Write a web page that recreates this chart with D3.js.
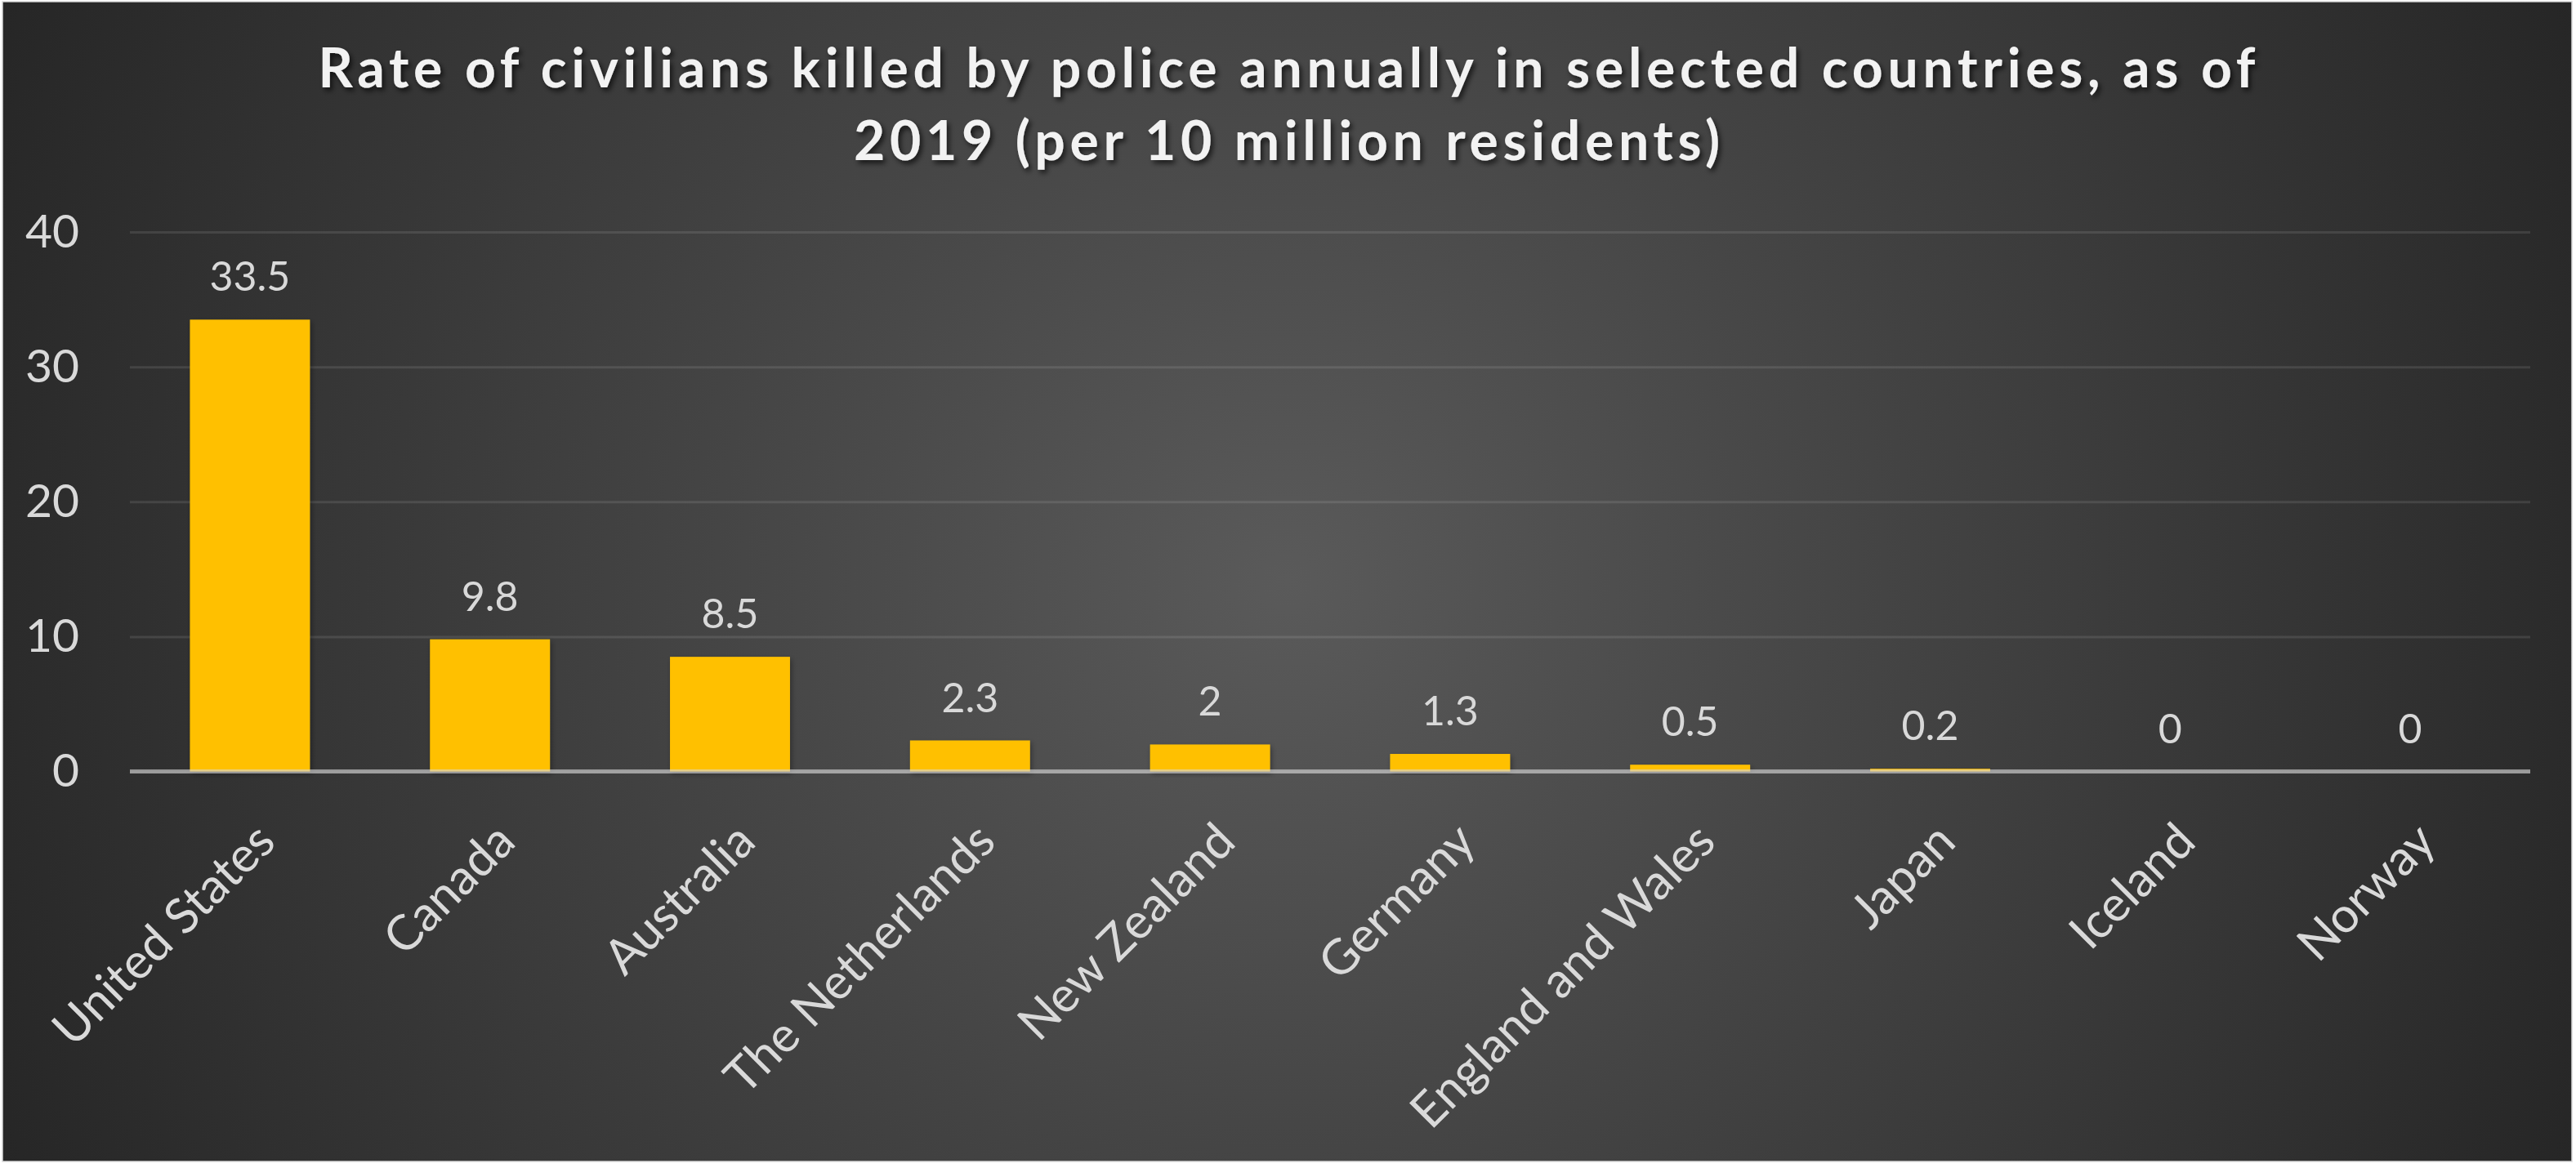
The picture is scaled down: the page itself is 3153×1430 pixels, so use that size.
<!DOCTYPE html>
<html>
<head>
<meta charset="utf-8">
<script src="https://cdn.jsdelivr.net/npm/d3@7"></script>
<style>
  html, body { margin: 0; padding: 0; background: #ffffff; }
  svg { display: block; }
</style>
</head>
<body>
<svg id="chart" width="3153" height="1430"></svg>
<script>
const categories = ["United States", "Canada", "Australia", "The Netherlands", "New Zealand",
  "Germany", "England and Wales", "Japan", "Iceland", "Norway"];
const values = [33.5, 9.8, 8.5, 2.3, 2, 1.3, 0.5, 0.2, 0, 0];
const yTicks = [0, 10, 20, 30, 40];
const titleLines = ["Rate of civilians killed by police annually in selected countries, as of",
  "2019 (per 10 million residents)"];

const W = 3153, H = 1430;
const svg = d3.select("#chart");
const defs = svg.append("defs");

const grad = defs.append("radialGradient")
  .attr("id", "bg").attr("gradientUnits", "userSpaceOnUse")
  .attr("cx", 1575).attr("cy", 712).attr("r", 1730);
grad.append("stop").attr("offset", "0%").attr("stop-color", "#5a5a5a");
grad.append("stop").attr("offset", "100%").attr("stop-color", "#262626");

const tshadow = defs.append("filter").attr("id", "tshadow")
  .attr("x", "-5%").attr("y", "-30%").attr("width", "110%").attr("height", "160%");
tshadow.append("feDropShadow").attr("dx", 3).attr("dy", 4).attr("stdDeviation", 3)
  .attr("flood-color", "#000").attr("flood-opacity", 0.65);

const bshadow = defs.append("filter").attr("id", "bshadow")
  .attr("x", "-20%").attr("y", "-20%").attr("width", "140%").attr("height", "140%");
bshadow.append("feDropShadow").attr("dx", 2).attr("dy", 3).attr("stdDeviation", 3)
  .attr("flood-color", "#000").attr("flood-opacity", 0.35);

// chart area
svg.append("rect").attr("x", 3).attr("y", 2).attr("width", 3145).attr("height", 1420)
  .attr("fill", "url(#bg)").attr("stroke", "#d9d9d9").attr("stroke-width", 1.5);

const x = d3.scaleBand().domain(categories).range([159, 3097])
  .paddingInner(0.5).paddingOuter(0.25);
const y = d3.scaleLinear().domain([0, 40]).range([944.5, 284]);

// gridlines
const grid = svg.append("g").attr("transform", "translate(159,0)")
  .call(d3.axisLeft(y).tickValues(yTicks).tickSize(-(3097 - 159)).tickFormat(""));
grid.select(".domain").remove();
grid.selectAll(".tick line").attr("stroke", "#ffffff").attr("stroke-opacity", 0.1)
  .attr("stroke-width", 3);

// y tick labels
const yAxis = svg.append("g").attr("transform", "translate(159,0)")
  .call(d3.axisLeft(y).tickValues(yTicks).tickSize(0).tickPadding(62));
yAxis.select(".domain").remove();
yAxis.selectAll("text").attr("fill", "#d9d9d9")
  .style("font-family", "Lato, 'Open Sans', sans-serif").style("font-size", "57px");

// bars
svg.append("g").selectAll("rect").data(values).join("rect")
  .attr("x", (d, i) => x(categories[i]))
  .attr("y", d => y(d))
  .attr("width", x.bandwidth())
  .attr("height", d => y(0) - y(d))
  .attr("fill", "#ffc000")
  .attr("filter", "url(#bshadow)");

// axis line
svg.append("line").attr("x1", 159).attr("x2", 3097).attr("y1", y(0)).attr("y2", y(0))
  .attr("stroke", "#d9d9d9").attr("stroke-opacity", 0.6).attr("stroke-width", 5);

// value labels
svg.append("g").selectAll("text").data(values).join("text")
  .attr("x", (d, i) => x(categories[i]) + x.bandwidth() / 2)
  .attr("y", d => y(d) - 35)
  .attr("text-anchor", "middle")
  .attr("fill", "#d9d9d9")
  .style("font-family", "Lato, 'Open Sans', sans-serif").style("font-size", "50px")
  .text(d => String(d));

// x labels
const xAxis = svg.append("g").attr("transform", `translate(0,${y(0)})`)
  .call(d3.axisBottom(x).tickSize(0));
xAxis.select(".domain").remove();
xAxis.selectAll("text")
  .attr("x", 34).attr("y", 89).attr("dy", 0)
  .attr("text-anchor", "end")
  .attr("transform", "rotate(-45 34 89)")
  .attr("fill", "#d9d9d9")
  .style("font-family", "Lato, 'Open Sans', sans-serif").style("font-size", "60px");

// title
const title = svg.append("g").attr("filter", "url(#tshadow)");
const titleLens = [2371, 1060];
title.selectAll("text").data(titleLines).join("text")
  .attr("x", 1575)
  .attr("y", (d, i) => 107 + i * 89)
  .attr("text-anchor", "middle")
  .attr("textLength", (d, i) => titleLens[i])
  .attr("lengthAdjust", "spacing")
  .attr("fill", "#f2f2f2")
  .style("font-family", "Lato, 'Open Sans', sans-serif")
  .style("font-weight", "700")
  .style("font-size", "66px")
  .text(d => d);
</script>
</body>
</html>
